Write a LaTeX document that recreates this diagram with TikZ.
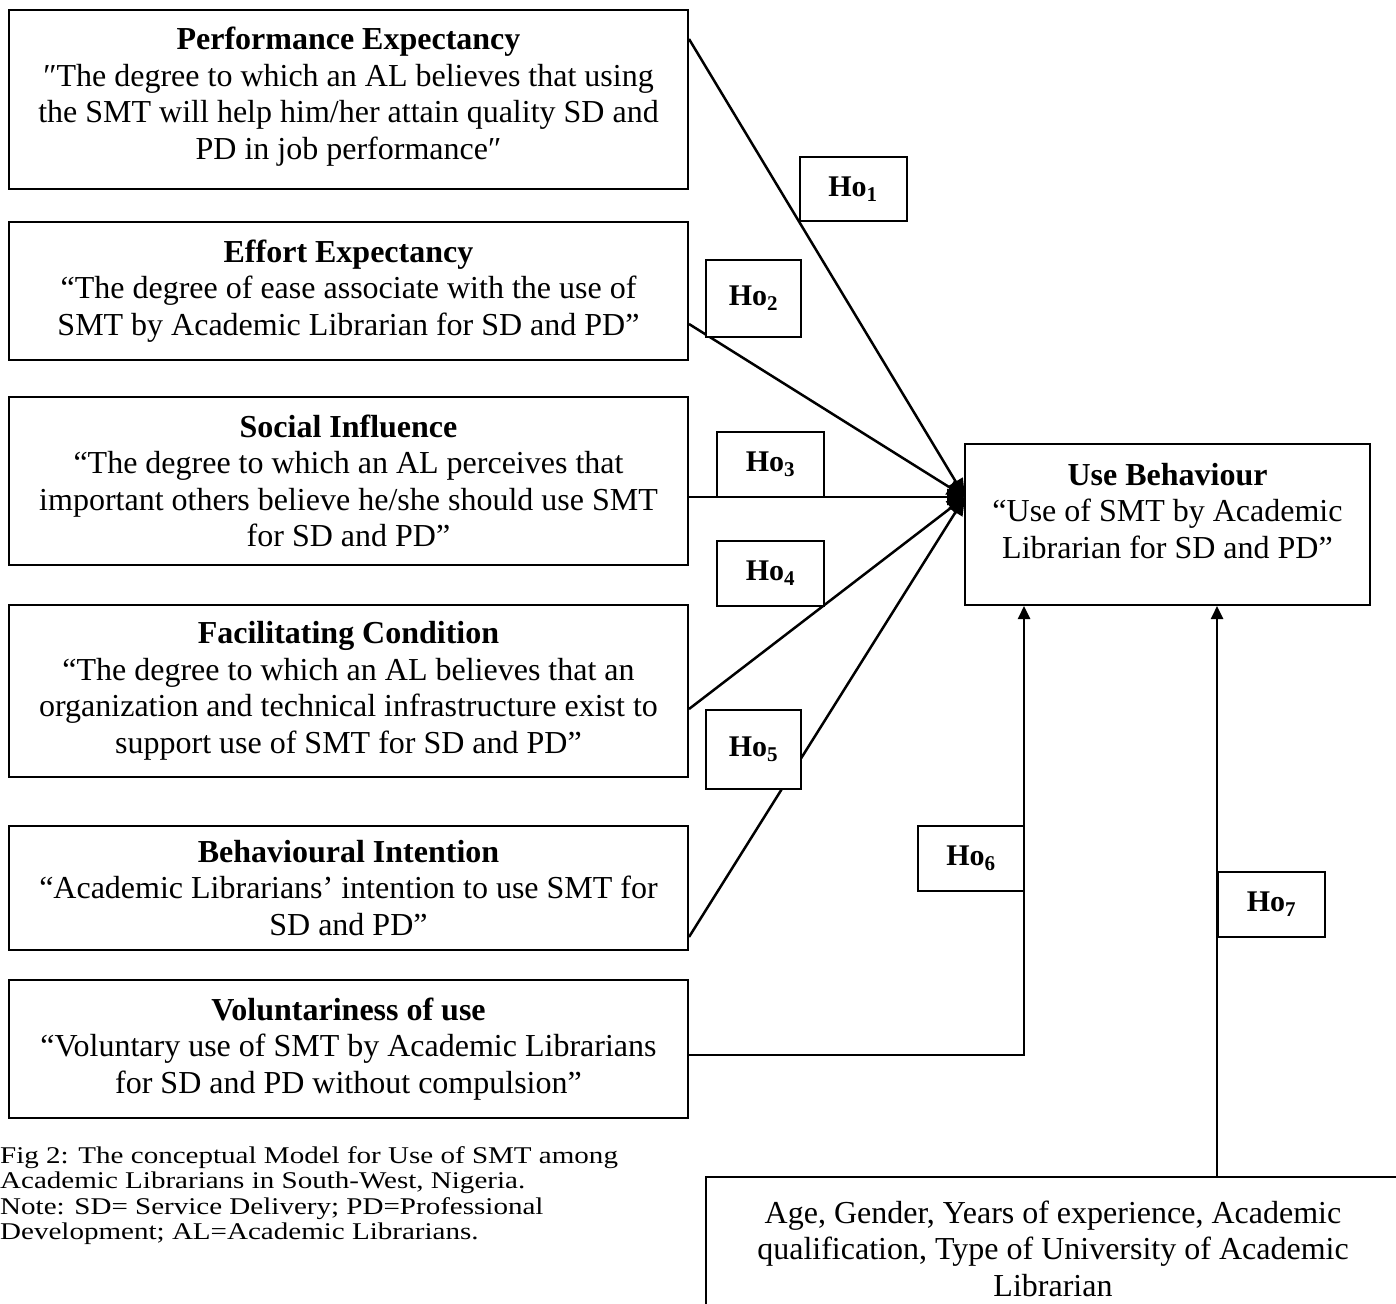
\documentclass[tikz,border=0pt]{standalone}
\usepackage{fontspec}
\setmainfont{Liberation Serif}
\usetikzlibrary{arrows.meta}
\begin{document}
\begin{tikzpicture}[x=1pt,y=-1pt,
  box/.style={draw, line width=2pt, fill=white, inner sep=0pt, align=center,
    font=\fontsize{32}{36.5}\selectfont},
  ho/.style={draw, line width=2pt, fill=white, inner sep=0pt,
    font=\fontsize{30}{32}\selectfont\bfseries},
  conn/.style={line width=2.5pt},
  tip/.style={-{Triangle[length=18pt,width=16pt]}},
  vtip/.style={-{Triangle[length=13pt,width=12pt]}},
]
\useasboundingbox (0,0) rectangle (1396,1303);
\clip (0,0) rectangle (1396,1303);

% left boxes
\node[box, minimum width=679pt, minimum height=179pt] (pe) at (348.5,99.5)
  {\textbf{Performance Expectancy}\\
   ″The degree to which an AL believes that using\\
   the SMT will help him/her attain quality SD and\\
   PD in job performance″\\[-24pt]\mbox{}};
\node[box, minimum width=679pt, minimum height=138pt] (ee) at (348.5,291)
  {\textbf{Effort Expectancy}\\
   “The degree of ease associate with the use of\\
   SMT by Academic Librarian for SD and PD”};
\node[box, minimum width=679pt, minimum height=168pt] (si) at (348.5,481)
  {\textbf{Social Influence}\\
   “The degree to which an AL perceives that\\
   important others believe he/she should use SMT\\
   for SD and PD”};
\node[box, minimum width=679pt, minimum height=172pt] (fc) at (348.5,691)
  {\textbf{Facilitating Condition}\\
   “The degree to which an AL believes that an\\
   organization and technical infrastructure exist to\\
   support use of SMT for SD and PD”};
\node[box, minimum width=679pt, minimum height=124pt] (bi) at (348.5,888)
  {\textbf{Behavioural Intention}\\
   “Academic Librarians’ intention to use SMT for\\
   SD and PD”};
\node[box, minimum width=679pt, minimum height=138pt] (vu) at (348.5,1049)
  {\textbf{Voluntariness of use}\\
   “Voluntary use of SMT by Academic Librarians\\
   for SD and PD without compulsion”};

% target box
\node[box, minimum width=405pt, minimum height=161pt] (ub) at (1167.5,524.5)
  {\textbf{Use Behaviour}\\
   “Use of SMT by Academic\\
   Librarian for SD and PD”\\[-9pt]\mbox{}};

% moderators box
\node[box, minimum width=694pt, minimum height=143pt] (dm) at (1053,1248.5)
  {Age, Gender, Years of experience, Academic\\
   qualification, Type of University of Academic\\
   Librarian};

% caption
\node[anchor=north west, inner sep=0pt, font=\fontsize{24}{25.5}\selectfont] (cap) at (0,1145)
  {\scalebox{1.21}[1]{\begin{tabular}{@{}l@{}}
   Fig 2: The conceptual Model for Use of SMT among\\
   Academic Librarians in South-West, Nigeria.\\
   Note: SD= Service Delivery; PD=Professional\\
   Development; AL=Academic Librarians.
   \end{tabular}}};

% connectors
\coordinate (c) at (965,497);
\draw[conn,tip] ([yshift=-30pt]pe.north east) -- (c);
\draw[conn,tip] ([yshift=-33pt]ee.east) -- (c);
\draw[conn,tip] ([yshift=-16pt]si.east) -- (c);
\draw[conn,tip] ([yshift=-18pt]fc.east) -- (c);
\draw[conn,tip] ([yshift=-49pt]bi.east) -- (c);
\draw[conn,vtip] ([yshift=-6pt]vu.east) -| ([xshift=60pt]ub.south west);
\draw[conn,vtip] ([xshift=512pt]dm.north west) -- ([xshift=253pt]ub.south west);

% hypothesis labels
\node[ho, minimum width=107pt, minimum height=64pt] (h1) at (853,189) {Ho\textsubscript{1}};
\node[ho, minimum width=95pt, minimum height=77pt] (h2) at (753.5,298.5) {Ho\textsubscript{2}};
\node[ho, minimum width=107pt, minimum height=65pt] (h3) at (770.5,464.5) {Ho\textsubscript{3}};
\node[ho, minimum width=107pt, minimum height=65pt] (h4) at (770.5,573.5) {Ho\textsubscript{4}};
\node[ho, minimum width=95pt, minimum height=79pt] (h5) at (753.5,749.5) {Ho\textsubscript{5}};
\node[ho, minimum width=106pt, minimum height=65pt] (h6) at (971,858.5) {Ho\textsubscript{6}};
\node[ho, minimum width=107pt, minimum height=65pt] (h7) at (1271.5,904) {Ho\textsubscript{7}};
\end{tikzpicture}
\end{document}
